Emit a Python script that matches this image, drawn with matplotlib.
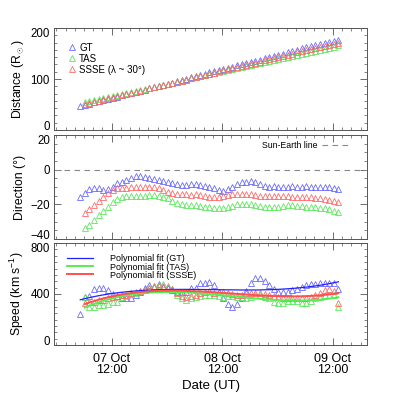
import numpy as np
import matplotlib
matplotlib.use('Agg')
import matplotlib.pyplot as plt
from matplotlib.ticker import MultipleLocator

plt.rcParams['font.family'] = ['Liberation Sans', 'DejaVu Sans']
plt.rcParams['mathtext.fontset'] = 'custom'
plt.rcParams['mathtext.rm'] = 'Liberation Sans'

# hours since 07 Oct 00:00 UT, hourly cadence
t_gt = 5.2 + np.arange(57)
t_oth = t_gt[1:]

# distance (R_sun)
dist_gt = [47, 49, 51, 54, 56, 58, 61, 63, 65, 68, 70, 72, 75, 77, 79, 82, 84, 86, 89, 91,
           93, 96, 98, 100, 103, 105, 107, 110, 113, 115, 117, 120, 122, 124, 127, 129, 131, 134, 136, 138,
           141, 143, 145, 148, 150, 153, 155, 157, 160, 162, 164, 167, 169, 171, 173, 175, 177]
dist_tas = [54, 56, 58, 60, 62, 64, 66, 68, 70, 72, 74, 76, 78, 80, 82, 84, 86, 88, 91, 93,
            95, 97, 99, 101, 103, 105, 107, 109, 111, 113, 115, 117, 119, 121, 123, 125, 127, 129, 131, 133,
            135, 137, 139, 141, 143, 145, 147, 149, 151, 153, 155, 157, 159, 161, 163, 166]
dist_ssse = [51, 53, 55, 57, 60, 62, 64, 66, 68, 71, 73, 75, 77, 79, 82, 84, 86, 88, 90, 93,
             95, 97, 99, 101, 104, 106, 108, 110, 112, 115, 117, 119, 121, 123, 126, 128, 130, 132, 134, 137,
             139, 141, 143, 145, 148, 150, 152, 154, 156, 159, 161, 163, 165, 167, 169, 171]

# direction (deg)
dir_gt = [-16.0, -13.3, -11.2, -10.4, -10.4, -11.7, -11.3, -9.8, -7.9, -6.9, -6.0, -5.0, -3.9, -3.5, -4.0,
          -4.8, -5.6, -6.2, -6.7, -7.1, -7.7, -8.5, -8.7, -8.7, -8.5, -8.5, -8.8, -9.6, -10.0,
          -10.4, -11.7, -12.1, -11.2, -9.8, -8.3, -7.3, -6.9, -6.4, -7.1, -8.5, -9.4, -9.8,
          -9.6, -9.8, -10.0, -9.8, -9.6, -9.8, -9.9, -9.7, -9.8, -10.0, -9.9, -10.0, -10.2, -10.4, -11.0]
dir_tas = [-33.8, -31.9, -29.0, -26.2, -23.7, -21.3, -18.8, -16.9, -15.6, -15.2, -15.0, -15.0, -15.0, -15.0,
           -14.6, -14.6, -15.0, -15.6, -16.5, -17.9, -19.0, -20.0, -20.4, -20.4, -20.4, -20.8, -21.3, -21.7,
           -22.3, -22.3, -21.9, -21.3, -20.8, -20.0, -19.8, -20.0, -20.0, -20.4, -21.0, -21.3, -21.3, -21.3,
           -21.3, -20.8, -20.4, -20.4, -20.8, -21.0, -21.3, -21.3, -21.7, -21.9, -22.3, -22.9, -23.7, -24.2]
dir_ssse = [-24.8, -22.9, -20.4, -18.1, -15.6, -13.3, -11.7, -10.8, -10.8, -10.4, -10.2, -9.8, -9.8, -9.8,
            -9.8, -10.2, -10.8, -11.7, -12.7, -13.7, -14.2, -14.2, -14.2, -14.6, -14.2, -14.6, -15.2, -15.6,
            -15.6, -15.6, -15.2, -14.6, -14.2, -14.0, -14.2, -14.2, -14.2, -14.6, -15.0, -15.2, -15.2, -15.2,
            -15.2, -15.2, -15.2, -15.6, -15.6, -15.6, -15.6, -16.0, -16.2, -16.5, -16.9, -17.5, -17.9, -18.5]

# speed (km/s)
spd_gt = [240, 378, 387, 437, 444, 444, 434, 400, 387, 371, 366, 371, 392, 418, 444, 470, 465, 476, 457, 444,
          431, 413, 413, 413, 444, 444, 490, 490, 497, 471, 418, 366, 322, 301, 322, 366, 424, 484, 523, 523,
          505, 471, 437, 416, 416, 416, 431, 437, 458, 471, 476, 479, 484, 484, 490, 483, 439]
spd_tas = [380, 300, 295, 310, 315, 320, 335, 340, 375, 385, 400, 410, 420, 430, 445, 460, 470, 475, 465, 440,
           390, 370, 355, 365, 375, 385, 392, 390, 392, 385, 380, 385, 385, 380, 378, 368, 380, 392, 392, 380,
           365, 340, 332, 332, 348, 348, 348, 332, 332, 348, 366, 380, 392, 395, 392, 296]
spd_ssse = [330, 335, 340, 350, 355, 365, 375, 385, 390, 395, 405, 415, 420, 430, 445, 452, 460, 462, 452, 440,
            405, 387, 379, 387, 392, 405, 418, 420, 410, 415, 415, 405, 400, 395, 395, 405, 410, 410, 405, 400,
            395, 385, 375, 370, 370, 370, 370, 370, 372, 380, 392, 410, 430, 437, 420, 332]

tick_pos = [12, 36, 60]
tick_lab = ['07 Oct\n12:00', '08 Oct\n12:00', '09 Oct\n12:00']

c_gt, c_tas, c_ssse = '#6b6bff', '#5ee85e', '#ff6b6b'
mk = dict(marker='^', linestyle='none', markersize=3.8, markerfacecolor='none', markeredgewidth=0.6)

fig = plt.figure(figsize=(4, 4), dpi=100)
ax1 = fig.add_axes([0.135, 0.675, 0.7825, 0.255])
ax2 = fig.add_axes([0.135, 0.4025, 0.7825, 0.26])
ax3 = fig.add_axes([0.135, 0.1375, 0.7825, 0.255])

for ax in (ax1, ax2, ax3):
    ax.set_xlim(-0.5, 67.4)
    ax.set_xticks(tick_pos)
    ax.xaxis.set_minor_locator(MultipleLocator(2))
    ax.tick_params(which='both', direction='in', top=True, right=True, color='#555555')
    ax.tick_params(axis='y', labelsize=8.3, pad=3)
    ax.tick_params(axis='x', labelsize=9, pad=6)
    ax.tick_params(which='major', length=5, width=0.6)
    ax.tick_params(which='minor', length=2.5, width=0.5)
    for s in ax.spines.values():
        s.set_color('#555555')
        s.set_linewidth(0.7)

ax1.set_xticklabels([])
ax2.set_xticklabels([])
ax3.set_xticklabels(tick_lab, linespacing=0.8)

# distance
ax1.plot(t_gt, dist_gt, color=c_gt, label='GT', **mk)
ax1.plot(t_oth, dist_tas, color=c_tas, label='TAS', **mk)
ax1.plot(t_oth, dist_ssse, color=c_ssse, label='SSSE (λ ~ 30°)', **mk)
ax1.set_ylim(0, 200)
ax1.set_yticks([0, 100, 200])
ax1.yaxis.set_minor_locator(MultipleLocator(100 / 7))
ax1.set_ylabel(r'Distance (R$_\odot$)', fontsize=8.8, labelpad=3)
ax1.legend(loc='upper left', frameon=False, fontsize=7, handlelength=0.8, handletextpad=0.3,
           labelspacing=0.1, borderaxespad=0.6, bbox_to_anchor=(0.015, 0.95))

# direction
ax2.axhline(0, color='#888888', lw=0.8, dashes=(5, 4), label='Sun-Earth line')
ax2.plot(t_gt, dir_gt, color=c_gt, **mk)
ax2.plot(t_oth, dir_tas, color=c_tas, **mk)
ax2.plot(t_oth, dir_ssse, color=c_ssse, **mk)
ax2.set_ylim(-40, 20)
ax2.set_yticks([-40, -20, 0, 20])
ax2.yaxis.set_minor_locator(MultipleLocator(5))
ax2.set_ylabel('Direction (°)', fontsize=8.8, labelpad=3)
ax2.legend(loc='upper right', frameon=False, fontsize=6.3, markerfirst=False, handlelength=3.2,
           handletextpad=0.5, borderaxespad=0.3, bbox_to_anchor=(0.965, 1.0))

# speed
ax3.plot(t_gt, spd_gt, color=c_gt, **mk)
ax3.plot(t_oth, spd_tas, color=c_tas, **mk)
ax3.plot(t_oth, spd_ssse, color=c_ssse, **mk)
fits = [(t_gt, spd_gt, '#2020ff', 0.9, 'Polynomial fit (GT)'),
        (t_oth, spd_tas, '#55ee55', 1.4, 'Polynomial fit (TAS)'),
        (t_oth, spd_ssse, '#ff5050', 1.4, 'Polynomial fit (SSSE)')]
for t, v, col, lw, lab in fits:
    p = np.polyfit(t, v, 3)
    tt = np.linspace(t[0], t[-1], 200)
    ax3.plot(tt, np.polyval(p, tt), color=col, lw=lw, label=lab)
ax3.set_ylim(0, 800)
ax3.set_yticks([0, 400, 800])
ax3.yaxis.set_minor_locator(MultipleLocator(50))
ax3.set_ylabel(r'Speed (km s$^{-1}$)', fontsize=8.8, labelpad=3)
ax3.set_xlabel('Date (UT)', fontsize=9.5, labelpad=3)
ax3.legend(loc='upper left', frameon=False, fontsize=6.5, handlelength=2.9, handletextpad=1.9,
           labelspacing=-0.1, borderaxespad=0.3, bbox_to_anchor=(0.02, 0.95))

# keep the end labels inside their panel, as in the original
for ax in (ax1, ax2, ax3):
    labs = ax.get_yticklabels()
    labs[0].set_verticalalignment('baseline')
    labs[-1].set_verticalalignment('top')

fig.align_ylabels([ax1, ax2, ax3])
fig.savefig('out.png', dpi=100)
